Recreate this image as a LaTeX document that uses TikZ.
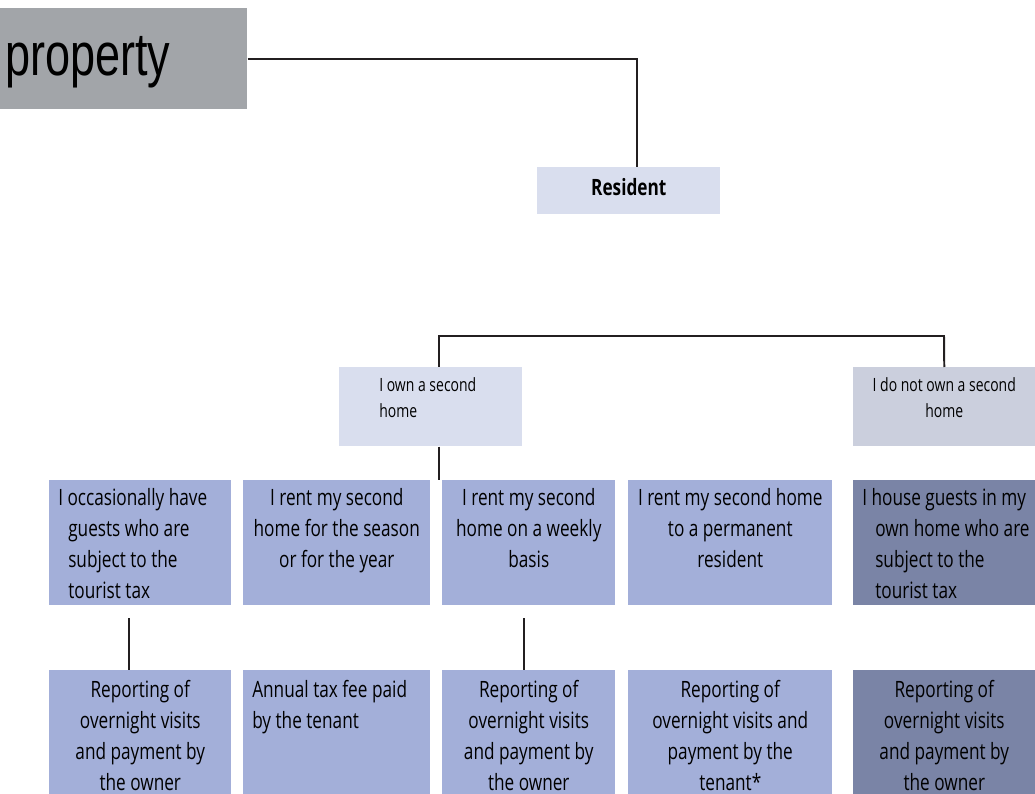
\documentclass[tikz,border=0pt]{standalone}
\usepackage{fontspec}
\usetikzlibrary{calc,positioning}
\newfontfamily\condfont[FakeStretch=0.765]{Open Sans}
\newfontfamily\propfont[FakeStretch=0.745]{Liberation Sans}
\definecolor{propgrey}{HTML}{A2A5A9}
\definecolor{lightbox}{HTML}{D9DEEE}
\definecolor{greybox}{HTML}{CBCFDD}
\definecolor{midbox}{HTML}{A3AFD9}
\definecolor{darkbox}{HTML}{7A84A6}
\definecolor{linecol}{HTML}{231F20}
\newlength\pxu
\setlength\pxu{0.025cm}
\newcommand{\boxtext}[4]{\parbox[t][#1\pxu][t]{#2\pxu}{#3\strut#4}}
\tikzset{
  cell/.style={fill=midbox,anchor=north west,inner xsep=0pt,font=\condfont\fontsize{16}{22}\selectfont},
  toprow/.style={cell,inner ysep=3.4\pxu},
  botrow/.style={cell,inner ysep=5.3\pxu},
  choice/.style={cell,fill=lightbox,inner ysep=5.8\pxu,font=\condfont\fontsize{13}{18.5}\selectfont},
  link/.style={draw=linecol,line width=1.4pt}
}
\begin{document}
\begin{tikzpicture}[x=0.025cm,y=-0.025cm]
\useasboundingbox (0,0) rectangle (1035,794);
% heading and resident
\node[anchor=north west,fill=propgrey,minimum width=247\pxu,text height=67\pxu,text depth=34\pxu,inner sep=0pt,font=\propfont\fontsize{43}{43}\selectfont] (prop) at (0,8) {\makebox[247\pxu][l]{\hspace*{5\pxu}property}};
\node[anchor=north west,fill=lightbox,minimum width=183\pxu,text height=28\pxu,text depth=19\pxu,inner ysep=0pt,font=\condfont\bfseries\fontsize{16}{18}\selectfont] (res) at (537,167) {Resident};
% second home or not
\node[choice] (own) at (339,367) {\boxtext{67.4}{183}{\raggedright}{\leftskip=40\pxu\relax I own a second\\home}};
\node[choice,fill=greybox] (notown) at (853,367) {\boxtext{67.4}{182}{\centering}{I do not own a second\\home}};
% situations
\node[toprow] (b1) at (49,480) {\boxtext{118.2}{182}{\raggedright}{\leftskip=19\pxu\relax\hspace*{-10\pxu}I occasionally have\\guests who are\\subject to the\\tourist tax}};
\node[toprow] (b2) at (243,480) {\boxtext{118.2}{187}{\centering}{I rent my second\\home for the season\\or for the year}};
\node[toprow] (b3) at (442,480) {\boxtext{118.2}{173}{\centering}{I rent my second\\home on a weekly\\basis}};
\node[toprow] (b4) at (628,480) {\boxtext{118.2}{204}{\centering}{I rent my second home\\to a permanent\\resident}};
\node[toprow,fill=darkbox] (b5) at (853,480) {\boxtext{118.2}{182}{\raggedright}{\leftskip=22\pxu\relax\hspace*{-13\pxu}I house guests in my\\own home who are\\subject to the\\tourist tax}};
% what has to be done
\node[botrow] (r1) at (49,670) {\boxtext{113.3}{182}{\centering}{Reporting of\\overnight visits\\and payment by\\the owner}};
\node[botrow] (r2) at (243,670) {\boxtext{113.3}{187}{\raggedright}{\leftskip=9\pxu\relax Annual tax fee paid\\by the tenant}};
\node[botrow] (r3) at (442,670) {\boxtext{113.3}{173}{\centering}{Reporting of\\overnight visits\\and payment by\\the owner}};
\node[botrow] (r4) at (628,670) {\boxtext{113.3}{204}{\centering}{Reporting of\\overnight visits and\\payment by the\\tenant*}};
\node[botrow,fill=darkbox] (r5) at (853,670) {\boxtext{113.3}{182}{\centering}{Reporting of\\overnight visits\\and payment by\\the owner}};
% connectors
\draw[link] (prop.east) -| ([xshift=8.5\pxu]res.north);
\coordinate (ja) at (439,336);
\coordinate (jb) at (944,336);
\draw[link] (own.north -| ja) -- (ja) -- (jb) -- (notown.north);
\draw[link] (ja |- own.south) -- (ja |- b3.north);
\coordinate (s1) at (129,618);
\coordinate (s3) at (524,618);
\draw[link] (s1) -- (s1 |- r1.north);
\draw[link] (s3) -- (s3 |- r3.north);
\end{tikzpicture}
\end{document}
